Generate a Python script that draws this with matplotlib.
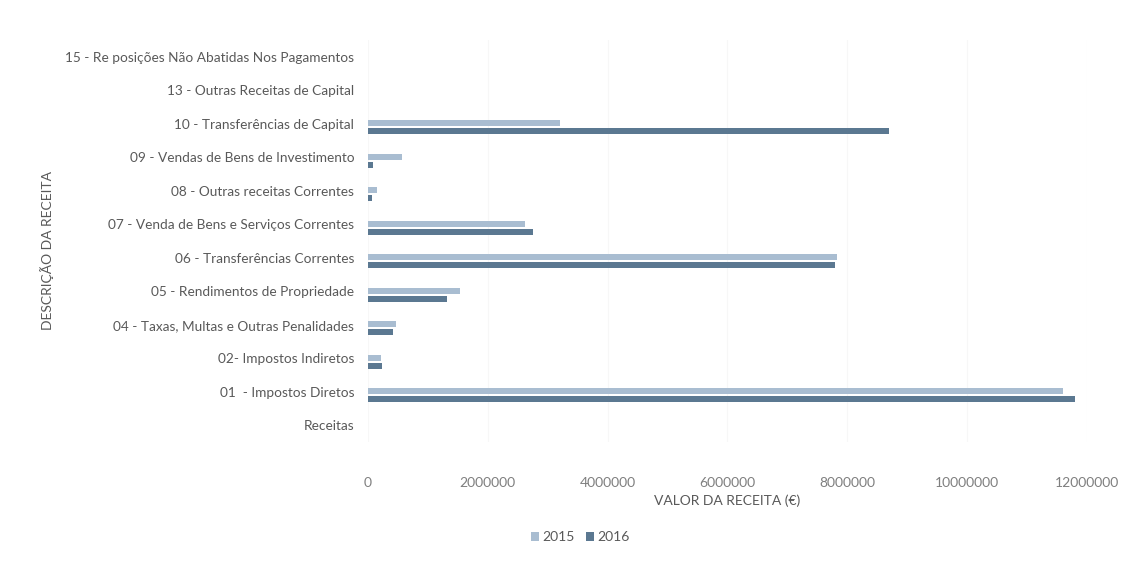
#!/usr/bin/env python3
"""Receitas 2015 vs 2016 - horizontal bar chart."""

import matplotlib.pyplot as plt
import numpy as np

plt.rcParams.update({
    "font.family": ["Lato", "DejaVu Sans"],
    "font.size": 10,
})

categories = [
    "Receitas",
    "01  - Impostos Diretos",
    "02- Impostos Indiretos",
    "04 - Taxas, Multas e Outras Penalidades",
    "05 - Rendimentos de Propriedade",
    "06 - Transferências Correntes",
    "07 - Venda de Bens e Serviços Correntes",
    "08 - Outras receitas Correntes",
    "09 - Vendas de Bens de Investimento",
    "10 - Transferências de Capital",
    "13 - Outras Receitas de Capital",
    "15 - Re posições Não Abatidas Nos Pagamentos",
]
values_2015 = [0, 11600000, 220000, 470000, 1530000, 7830000, 2620000, 150000, 570000, 3200000, 0, 0]
values_2016 = [0, 11800000, 230000, 420000, 1320000, 7790000, 2760000, 70000, 80000, 8700000, 0, 0]
xticks = [0, 2000000, 4000000, 6000000, 8000000, 10000000, 12000000]

C2015 = "#a9bdd1"
C2016 = "#5b7891"
GREY = "#595959"

fig = plt.figure(figsize=(11.31, 5.62), dpi=100)
ax = fig.add_axes([0.3254, 0.2135, 0.6356, 0.7153])

y = np.arange(len(categories))
h = 0.18
ax.barh(y + 0.02, values_2015, h, color=C2015, label="2015")
ax.barh(y - 0.22, values_2016, h, color=C2016, label="2016")

ax.set_ylim(-0.5, len(categories) - 0.5)
ax.set_xlim(0, 12000000)
ax.set_yticks(y, categories)
ax.set_xticks(xticks, [str(v) for v in xticks])
ax.tick_params(axis="y", length=0, pad=10, labelsize=9.8, colors=GREY)
ax.tick_params(axis="x", length=0, pad=25, labelsize=10, colors="#7f7f7f")
ax.grid(axis="x", color="#f7f7f7", linewidth=0.8)
ax.set_axisbelow(True)
for s in ax.spines.values():
    s.set_visible(False)

ax.set_xlabel("VALOR DA RECEITA (€)", color=GREY, fontsize=10, labelpad=4)
fig.text(0.0415, 0.555, "DESCRIÇÃO DA RECEITA", rotation=90, color=GREY,
         fontsize=10, ha="center", va="center")

fig.legend(loc="center", bbox_to_anchor=(0.513, 0.0445), ncol=2, frameon=False,
           handlelength=0.6, handleheight=0.6, handletextpad=0.2, columnspacing=0.8,
           labelcolor=GREY, fontsize=10)

fig.savefig("out.png", dpi=100)
